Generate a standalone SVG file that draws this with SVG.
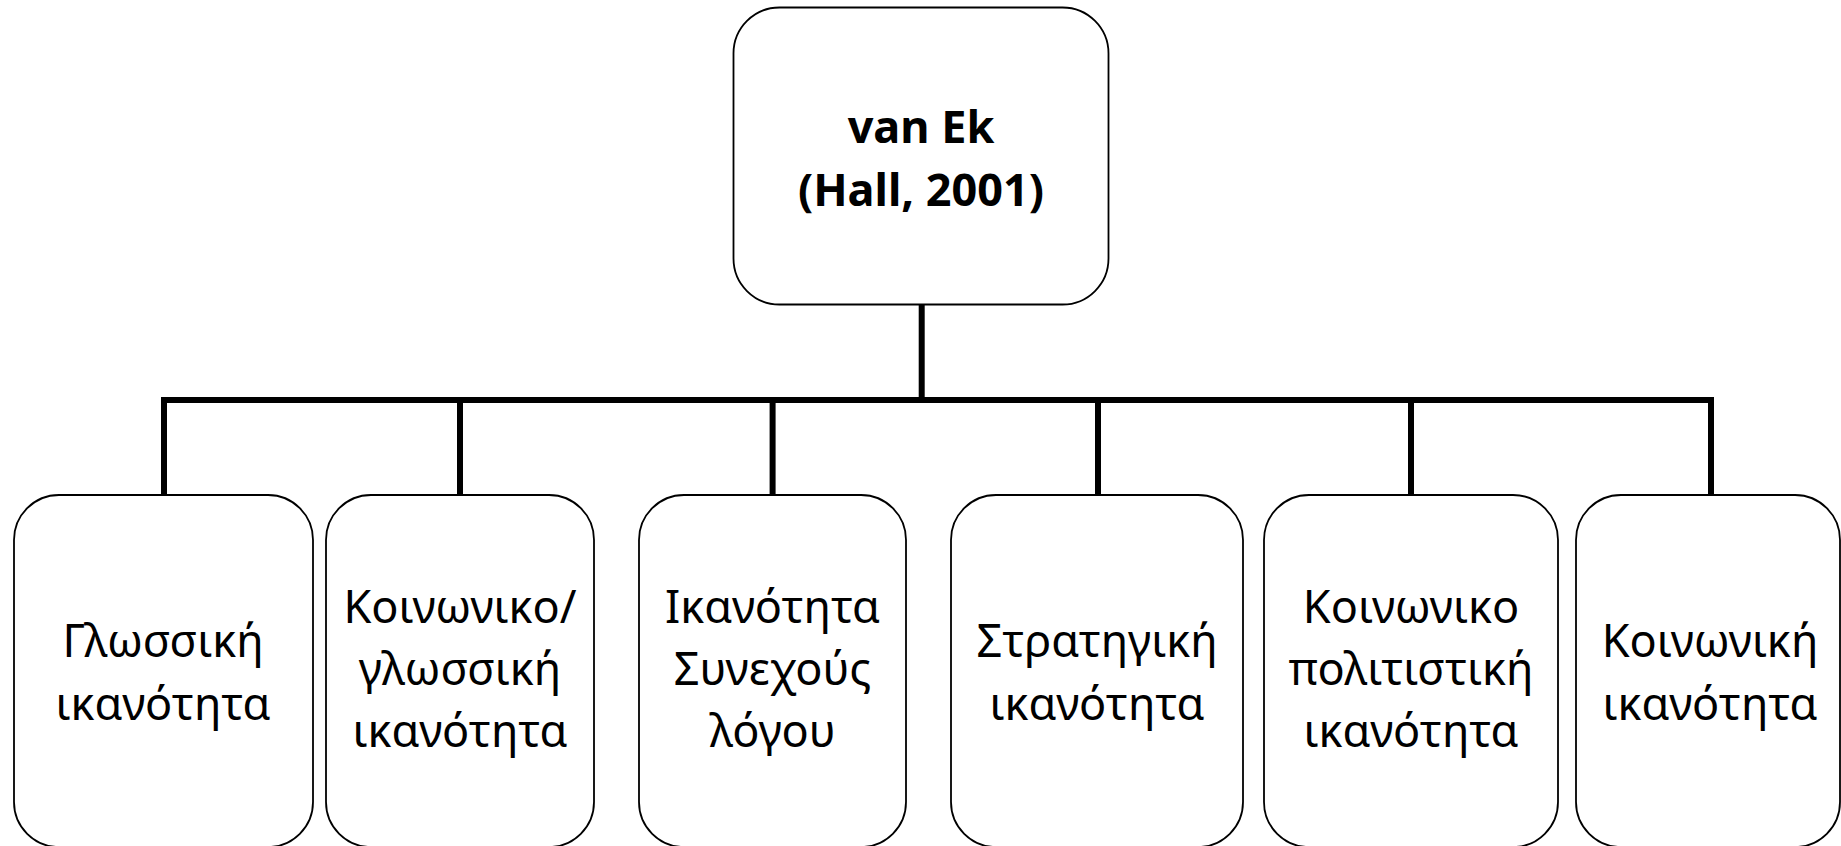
<svg xmlns="http://www.w3.org/2000/svg" width="1841" height="846" viewBox="0 0 1841 846">
<style>
.box{fill:#fff;stroke:#000;stroke-width:1.8}
.conn{fill:none;stroke:#000;stroke-width:6;stroke-linejoin:miter;stroke-linecap:butt}
.t{font-family:"Noto Sans","Open Sans","DejaVu Sans",sans-serif;font-size:45px;fill:#000;text-anchor:middle}
.tb{font-family:"Noto Sans","Open Sans","DejaVu Sans",sans-serif;font-size:45px;font-weight:bold;fill:#000;text-anchor:middle}
</style>
<rect width="1841" height="846" fill="#fff"/>
<g id="connectors">
<path class="conn" d="M921.7 305 V400"/>
<path class="conn" d="M164 495 V400 H1711 V495"/>
<path class="conn" d="M460 400 V495"/>
<path class="conn" d="M772.6 400 V495"/>
<path class="conn" d="M1098 400 V495"/>
<path class="conn" d="M1411 400 V495"/>
</g>
<g id="root">
<rect class="box" x="733.5" y="7.5" width="375" height="297" rx="46" ry="46"/>
<text class="tb" x="921" y="142.5">van Ek</text>
<text class="tb" x="921" y="206">(Hall, 2001)</text>
</g>
<g id="n1">
<rect class="box" x="14" y="495" width="299" height="352" rx="45" ry="45"/>
<text class="t" x="163" y="657">Γλωσσική</text>
<text class="t" x="163" y="720">ικανότητα</text>
</g>
<g id="n2">
<rect class="box" x="326" y="495" width="268" height="352" rx="45" ry="45"/>
<text class="t" x="460" y="623">Κοινωνικο/</text>
<text class="t" x="460" y="685">γλωσσική</text>
<text class="t" x="460" y="747">ικανότητα</text>
</g>
<g id="n3">
<rect class="box" x="639" y="495" width="267" height="352" rx="45" ry="45"/>
<text class="t" x="772.5" y="623">Ικανότητα</text>
<text class="t" x="772.5" y="685">Συνεχούς</text>
<text class="t" x="772.5" y="747">λόγου</text>
</g>
<g id="n4">
<rect class="box" x="951" y="495" width="292" height="352" rx="45" ry="45"/>
<text class="t" x="1097" y="657">Στρατηγική</text>
<text class="t" x="1097" y="720">ικανότητα</text>
</g>
<g id="n5">
<rect class="box" x="1264" y="495" width="294" height="352" rx="45" ry="45"/>
<text class="t" x="1411" y="623">Κοινωνικο</text>
<text class="t" x="1411" y="685">πολιτιστική</text>
<text class="t" x="1411" y="747">ικανότητα</text>
</g>
<g id="n6">
<rect class="box" x="1576" y="495" width="264" height="352" rx="45" ry="45"/>
<text class="t" x="1710" y="657">Κοινωνική</text>
<text class="t" x="1710" y="720">ικανότητα</text>
</g>
</svg>
